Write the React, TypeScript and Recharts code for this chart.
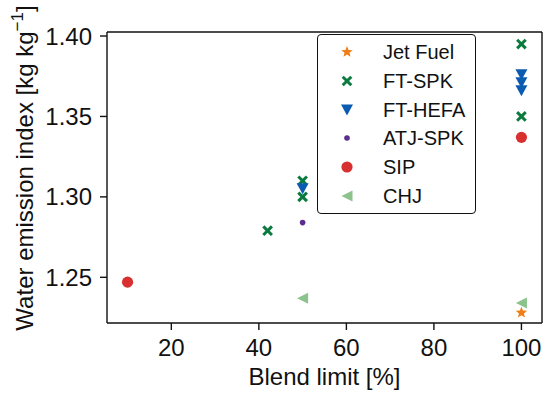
import React from 'react';
import { ScatterChart, Scatter, XAxis, YAxis, Legend, ReferenceLine } from 'recharts';

// blend limit [%] and water emission index [kg/kg] per fuel family
const jetBlend = [100];
const jetWater = [1.228];
const ftSpkBlend = [42, 50, 50, 100, 100];
const ftSpkWater = [1.279, 1.31, 1.3, 1.395, 1.35];
const ftHefaBlend = [50, 100, 100, 100];
const ftHefaWater = [1.305, 1.376, 1.371, 1.366];
const atjBlend = [50];
const atjWater = [1.284];
const sipBlend = [10, 100];
const sipWater = [1.247, 1.337];
const chjBlend = [50, 100];
const chjWater = [1.237, 1.234];

const xTicks = [20, 40, 60, 80, 100];
const yTicks = [1.25, 1.3, 1.35, 1.4];
const xDomain = [5.3, 104.7];
const yDomain = [1.2216, 1.4025];

const FONT = '"Liberation Sans", Arial, Helvetica, sans-serif';
const INK = '#111';

type Kind = 'star' | 'x' | 'vtri' | 'dot' | 'circle' | 'ltri';

interface SeriesDef {
    name: string;
    kind: Kind;
    color: string;
    blend: number[];
    water: number[];
}

const series: SeriesDef[] = [
    { name: 'Jet Fuel', kind: 'star', color: '#f07d16', blend: jetBlend, water: jetWater },
    { name: 'FT-SPK', kind: 'x', color: '#0a7a3f', blend: ftSpkBlend, water: ftSpkWater },
    { name: 'FT-HEFA', kind: 'vtri', color: '#0b5cb0', blend: ftHefaBlend, water: ftHefaWater },
    { name: 'ATJ-SPK', kind: 'dot', color: '#5a2d8e', blend: atjBlend, water: atjWater },
    { name: 'SIP', kind: 'circle', color: '#d8302f', blend: sipBlend, water: sipWater },
    { name: 'CHJ', kind: 'ltri', color: '#8cc38c', blend: chjBlend, water: chjWater },
];

function starPoints(cx: number, cy: number, R: number, r: number) {
    const pts: string[] = [];
    for (let i = 0; i < 10; i++) {
        const a = -Math.PI / 2 + (i * Math.PI) / 5;
        const rad = i % 2 === 0 ? R : r;
        pts.push(`${cx + rad * Math.cos(a)},${cy + rad * Math.sin(a)}`);
    }
    return pts.join(' ');
}

function Glyph({ kind, color, cx, cy }: { kind: Kind; color: string; cx: number; cy: number }) {
    switch (kind) {
        case 'star':
            return <polygon points={starPoints(cx, cy, 6, 2.6)} fill={color} />;
        case 'x': {
            const d = 4.3;
            return (
                <g stroke={color} strokeWidth={3}>
                    <line x1={cx - d} y1={cy - d} x2={cx + d} y2={cy + d} />
                    <line x1={cx - d} y1={cy + d} x2={cx + d} y2={cy - d} />
                </g>
            );
        }
        case 'vtri':
            return <polygon points={`${cx - 6},${cy - 5.5} ${cx + 6},${cy - 5.5} ${cx},${cy + 5.5}`} fill={color} />;
        case 'dot':
            return <circle cx={cx} cy={cy} r={2.8} fill={color} />;
        case 'circle':
            return <circle cx={cx} cy={cy} r={5.6} fill={color} />;
        case 'ltri':
            return <polygon points={`${cx - 5.5},${cy} ${cx + 5.5},${cy - 5.5} ${cx + 5.5},${cy + 5.5}`} fill={color} />;
    }
    return null;
}

function LegendBox() {
    return (
        <div
            style={{
                boxSizing: 'border-box',
                width: 159,
                height: 180,
                border: `1.5px solid ${INK}`,
                borderRadius: 4,
                background: '#fff',
                paddingTop: 3,
                fontFamily: FONT,
                fontSize: 20,
                color: INK,
            }}
        >
            {series.map((s) => (
                <div key={s.name} style={{ display: 'flex', alignItems: 'center', height: 28.7 }}>
                    <svg width={60} height={28} style={{ flex: 'none', marginLeft: 4 }}>
                        <Glyph kind={s.kind} color={s.color} cx={25} cy={14} />
                    </svg>
                    <span style={{ marginLeft: 1, lineHeight: '28px' }}>{s.name}</span>
                </div>
            ))}
        </div>
    );
}

function YLabel() {
    return (
        <text
            transform="translate(33, 168) rotate(-90)"
            textAnchor="middle"
            fontSize={24}
            fontFamily={FONT}
            fill={INK}
        >
            Water emission index [kg kg
            <tspan fontSize={17} dy={-10}>−1</tspan>
            <tspan dy={10}>]</tspan>
        </text>
    );
}

function XLabel() {
    return (
        <text x={324.5} y={385} textAnchor="middle" fontSize={24} fontFamily={FONT} fill={INK}>
            Blend limit [%]
        </text>
    );
}

export default function App() {
    const tickStyle = { fill: INK, fontSize: 24, fontFamily: FONT };
    const axisStroke = { stroke: INK, strokeWidth: 1.4 };
    return (
        <div style={{ position: 'absolute', left: 0, top: 0 }}>
            <ScatterChart width={550} height={400} margin={{ top: 32, right: 8, bottom: 47, left: 47 }} style={{ fontFamily: FONT }}>
                <XAxis
                    type="number"
                    dataKey="x"
                    domain={xDomain}
                    ticks={xTicks}
                    allowDataOverflow
                    height={30}
                    tick={tickStyle}
                    tickSize={7}
                    tickMargin={9}
                    axisLine={axisStroke}
                    tickLine={axisStroke}
                    label={XLabel}
                />
                <YAxis
                    type="number"
                    dataKey="y"
                    domain={yDomain}
                    ticks={yTicks}
                    allowDataOverflow
                    width={60}
                    tick={tickStyle}
                    tickSize={7}
                    tickMargin={8}
                    tickFormatter={(v: number) => v.toFixed(2)}
                    axisLine={axisStroke}
                    tickLine={axisStroke}
                    label={YLabel}
                />
                {/* top and right spines */}
                <ReferenceLine y={yDomain[1]} stroke={INK} strokeWidth={1.4} ifOverflow="extendDomain" />
                <ReferenceLine x={xDomain[1]} stroke={INK} strokeWidth={1.4} ifOverflow="extendDomain" />
                <Legend
                    layout="horizontal"
                    align="center"
                    verticalAlign="middle"
                    wrapperStyle={{ left: 317, top: 34, width: 159, height: 180 }}
                    content={() => <LegendBox />}
                />
                {series.map((s) => (
                    <Scatter
                        key={s.name}
                        name={s.name}
                        data={s.blend.map((b, i) => ({ x: b, y: s.water[i] }))}
                        isAnimationActive={false}
                        shape={(p: any) => <Glyph kind={s.kind} color={s.color} cx={p.cx} cy={p.cy} />}
                    />
                ))}
            </ScatterChart>
        </div>
    );
}
